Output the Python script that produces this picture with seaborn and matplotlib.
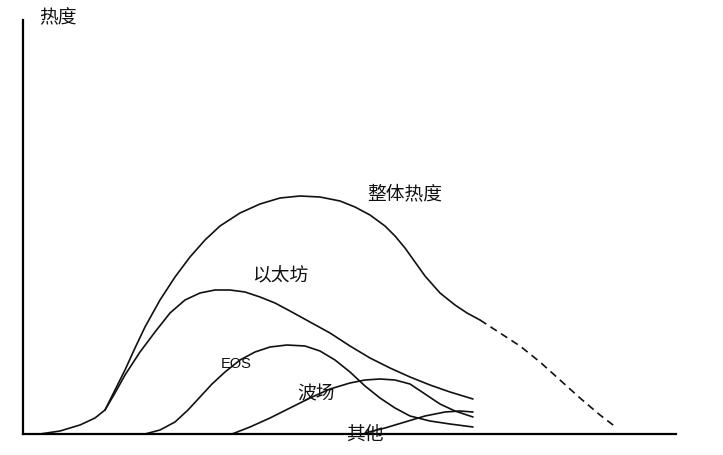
import matplotlib
matplotlib.use("Agg")
import matplotlib.pyplot as plt
import seaborn as sns
import pandas as pd

sns.set_style("white")
plt.rcParams['font.family'] = ['Noto Sans CJK SC', 'DejaVu Sans']

# Values (x: time position, y: heat level)
overall_x = [40, 60, 80, 95, 105, 115, 125, 135, 145, 160, 175, 190, 205, 220, 240, 260, 280, 300,
             320, 340, 355, 370, 385, 395, 405, 415, 425, 440, 455, 467, 480]
overall_y = [0, 3, 9, 16, 24, 44, 64, 86, 107, 134, 157, 177, 194, 208, 221, 230, 236, 238,
             237, 233, 227, 219, 208, 198, 186, 172, 158, 141, 129, 121, 114]
forecast_x = [480, 500, 520, 540, 560, 580, 600, 617]
forecast_y = [114, 101, 88, 72, 54, 36, 19, 6]
eth_x = [105, 115, 125, 140, 155, 170, 185, 200, 215, 230, 245, 260, 275, 290, 310, 330, 350,
         370, 390, 410, 430, 450, 473]
eth_y = [24, 41, 59, 82, 102, 121, 134, 141, 144, 144, 142, 137, 131, 123, 112, 101, 88,
         76, 66, 57, 49, 42, 35]
eos_x = [145, 160, 175, 188, 200, 212, 225, 240, 255, 270, 287, 305, 320, 335, 350, 365, 380,
         395, 410, 430, 450, 473]
eos_y = [0, 4, 12, 24, 37, 50, 62, 74, 82, 87, 89, 88, 83, 74, 62, 48, 36,
         26, 18, 13, 10, 7]
tron_x = [232, 250, 270, 290, 310, 330, 350, 365, 380, 395, 410, 425, 440, 455, 473]
tron_y = [0, 7, 16, 26, 36, 45, 51, 54, 55, 54, 50, 40, 30, 23, 17]
other_x = [365, 385, 405, 425, 445, 460, 473]
other_y = [1, 6, 12, 18, 22, 23, 22]

labels = ["整体热度", "以太坊", "EOS", "波场", "其他"]
axis_label = "热度"

fig = plt.figure(figsize=(7.23, 4.55), dpi=100)
ax = fig.add_axes([23 / 723, 21 / 455, 653 / 723, 414 / 455])

lw = 1.2
col = "#111111"
for xs, ys in [(overall_x, overall_y), (eth_x, eth_y), (eos_x, eos_y),
               (tron_x, tron_y), (other_x, other_y)]:
    sns.lineplot(x=xs, y=ys, ax=ax, color=col, linewidth=lw, sort=False)
sns.lineplot(x=forecast_x, y=forecast_y, ax=ax, color=col, linewidth=lw, sort=False,
             linestyle=(0, (4.5, 3)))

ax.set_xlim(23, 676)
ax.set_ylim(0, 414)
ax.set_xticks([])
ax.set_yticks([])
ax.set_xlabel("")
ax.set_ylabel("")
for s in ["top", "right"]:
    ax.spines[s].set_visible(False)
for s in ["left", "bottom"]:
    ax.spines[s].set_color("black")
    ax.spines[s].set_linewidth(1.6)
for ln in ax.lines:
    ln.set_clip_on(False)

fs = 13.5
tc = "#111111"
ax.text(58, 416, axis_label, fontsize=fs, color=tc, ha="center", va="center", clip_on=False)
ax.text(405, 240, labels[0], fontsize=fs, color=tc, ha="center", va="center")
ax.text(280, 158, labels[1], fontsize=fs, color=tc, ha="center", va="center")
ax.text(236, 70, labels[2], fontsize=10.5, color=tc, ha="center", va="center",
        family=['Liberation Sans', 'DejaVu Sans'])
ax.text(316, 40, labels[3], fontsize=fs, color=tc, ha="center", va="center")
ax.text(365, 0, labels[4], fontsize=fs, color=tc, ha="center", va="center")

fig.savefig("out.png", dpi=100, facecolor="white")
